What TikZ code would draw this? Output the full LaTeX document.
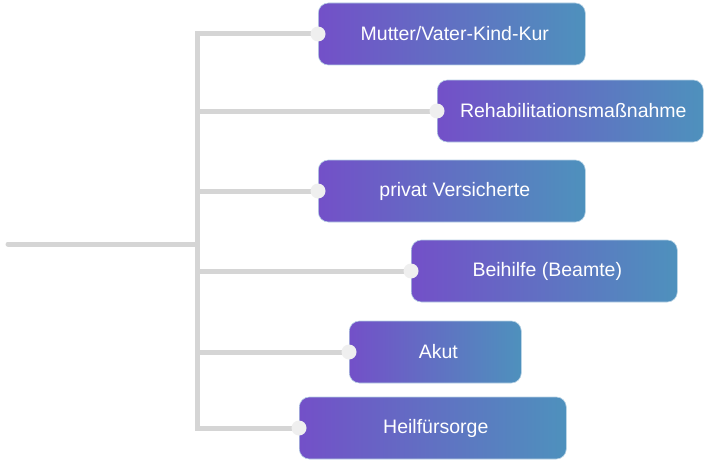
\documentclass[tikz,border=0pt]{standalone}
\usepackage{fontspec}
\setmainfont{Liberation Sans}
\usetikzlibrary{positioning}
\definecolor{lila}{HTML}{7350C8}
\definecolor{blaugruen}{HTML}{4E91BD}
\definecolor{astgrau}{HTML}{D5D5D5}
\definecolor{kerbe}{HTML}{EFEFEF}

\begin{document}
\begin{tikzpicture}[x=1pt, y=-1pt,
  kasten/.style={anchor=west, rounded corners=10pt, draw=blaugruen!40, line width=0.6pt,
    left color=lila, right color=blaugruen,
    minimum height=62pt, inner sep=0pt, text=white, font=\fontsize{19.5}{23}\selectfont},
  ast/.style={draw=astgrau, line width=5pt},
  kerbe/.style={fill=kerbe}]
\useasboundingbox (0,0) rectangle (720,460);
\coordinate (links) at (8,244);
\coordinate (stamm) at (197,244);
% Kaesten
\node[kasten, minimum width=267pt] (kur) at (318,34) {\hspace{6pt}Mutter/Vater-Kind-Kur};
\node[kasten, minimum width=266pt] (reha) at (437,111) {\hspace{6pt}Rehabilitationsmaßnahme};
\node[kasten, minimum width=267pt] (privat) at (318,191) {\hspace{6pt}privat Versicherte};
\node[kasten, minimum width=266pt] (beihilfe) at (411,271) {\hspace{6pt}Beihilfe (Beamte)};
\node[kasten, minimum width=172pt] (akut) at (349,352) {\hspace{6pt}Akut};
\node[kasten, minimum width=267pt] (heil) at (299,428) {\hspace{6pt}Heilfürsorge};
% Aeste
\draw[ast, line cap=round] (links) -- (stamm);
\foreach \k in {kur, reha, privat, beihilfe, akut, heil}
  \draw[ast] (\k.west) -| (stamm);
\foreach \k in {kur, reha, privat, beihilfe, akut, heil}
  \fill[kerbe] (\k.west) circle (7.5pt);
\end{tikzpicture}
\end{document}
